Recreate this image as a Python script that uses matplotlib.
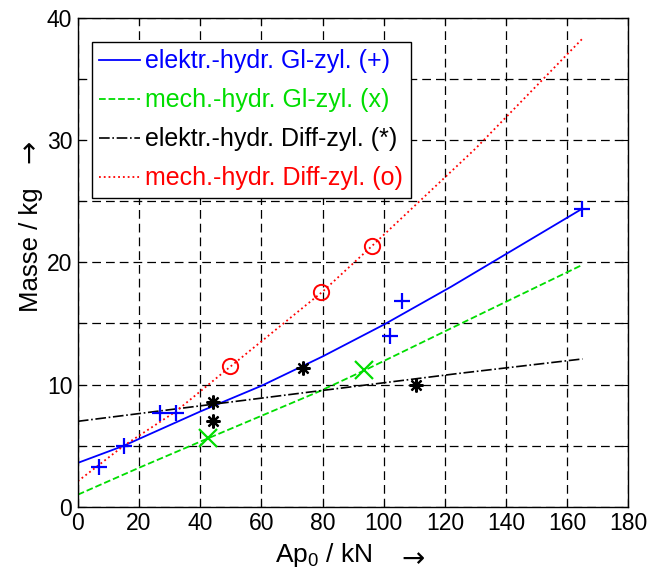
import matplotlib
matplotlib.use("Agg")
import matplotlib.pyplot as plt

plt.rcParams['font.family'] = ['Liberation Sans', 'DejaVu Sans']
plt.rcParams['mathtext.fontset'] = 'custom'
plt.rcParams['mathtext.rm'] = 'Liberation Sans'
plt.rcParams['mathtext.it'] = 'Liberation Sans'

# Kurven (Ausgleich) Masse ueber Ap0
kurve_x_gl_el = [0, 15, 40, 60, 80, 100, 122, 165]
kurve_y_gl_el = [3.6, 5.0, 7.8, 9.9, 12.3, 14.9, 18.0, 24.4]
kurve_x_gl_mech = [0, 20, 42.5, 78.5, 94, 122, 165]
kurve_y_gl_mech = [1.0, 3.2, 5.6, 9.4, 11.2, 14.6, 19.8]
kurve_x_diff_el = [0, 76, 124, 165]
kurve_y_diff_el = [7.0, 9.4, 10.9, 12.1]
kurve_x_diff_mech = [0, 15, 32, 50, 80, 96, 130, 165]
kurve_y_diff_mech = [2.1, 5.0, 7.8, 11.5, 17.6, 21.3, 29.3, 38.3]

# Messpunkte
ap_gl_el = [7, 15, 27, 32, 102, 106, 165]
m_gl_el = [3.3, 5.0, 7.7, 7.7, 14.0, 16.8, 24.4]
ap_gl_mech = [42.5, 93.6]
m_gl_mech = [5.6, 11.2]
ap_diff_el = [44.2, 44.2, 73.6, 110.6]
m_diff_el = [8.6, 7.0, 11.4, 10.0]
ap_diff_mech = [49.7, 79.5, 96.2]
m_diff_mech = [11.5, 17.6, 21.3]

labels = ["elektr.-hydr. Gl-zyl. (+)", "mech.-hydr. Gl-zyl. (x)",
          "elektr.-hydr. Diff-zyl. (*)", "mech.-hydr. Diff-zyl. (o)"]
farben = ["#0000ff", "#00dd00", "#000000", "#ff0000"]

fig = plt.figure(figsize=(6.6, 5.76), dpi=100)
ax = fig.add_axes([0.118, 0.12, 0.834, 0.849])

l1, = ax.plot(kurve_x_gl_el, kurve_y_gl_el, color=farben[0], lw=1.3, ls='-')
l2, = ax.plot(kurve_x_gl_mech, kurve_y_gl_mech, color=farben[1], lw=1.3, ls='--')
l3, = ax.plot(kurve_x_diff_el, kurve_y_diff_el, color=farben[2], lw=1.2, ls='-.')
l4, = ax.plot(kurve_x_diff_mech, kurve_y_diff_mech, color=farben[3], lw=1.3, ls=':')

ax.plot(ap_gl_el, m_gl_el, ls='none', marker='+', ms=12, mew=1.6, color=farben[0])
ax.plot(ap_gl_mech, m_gl_mech, ls='none', marker='x', ms=13, mew=1.6, color=farben[1])
ax.plot(ap_diff_el, m_diff_el, ls='none', marker=(8, 2, 0), ms=10, mew=1.6, color=farben[2])
ax.plot(ap_diff_mech, m_diff_mech, ls='none', marker='o', ms=11, mew=1.4,
        mfc='none', color=farben[3])

ax.set_xlim(0, 180)
ax.set_ylim(0, 40)
ax.set_xticks(range(0, 181, 20))
ax.set_yticks(range(0, 41, 10))
ax.set_yticks(range(5, 40, 10), minor=True)
ax.tick_params(which='both', direction='in', top=True, right=True,
               length=5, width=0.8, labelsize=16.5, pad=4)
ax.grid(True, which='both', color='black', lw=0.9, ls=(0, (7, 4)))
for s in ax.spines.values():
    s.set_linewidth(1.0)

# Achsbeschriftungen mit Pfeilen
fig.text(0.491, 0.036, "Ap$_0$ / kN", fontsize=19, ha='center', va='center')
fig.text(0.626, 0.03, "→", fontsize=20, family='DejaVu Sans', ha='center', va='center')
fig.text(0.047, 0.566, "Masse / kg", fontsize=18.5, rotation=90, ha='center', va='center')
fig.text(0.044, 0.738, "→", fontsize=20, family='DejaVu Sans', rotation=90,
         ha='center', va='center')

leg = ax.legend([l1, l2, l3, l4], labels, loc='upper left',
                bbox_to_anchor=(0.025, 0.951), borderaxespad=0,
                fontsize=18, handlelength=1.65, handletextpad=0.2,
                labelspacing=0.6, borderpad=0.3, fancybox=False,
                framealpha=1, edgecolor='black')
leg.get_frame().set_linewidth(1.0)
for t, c in zip(leg.get_texts(), farben):
    t.set_color(c)

fig.savefig("out.png", dpi=100)
